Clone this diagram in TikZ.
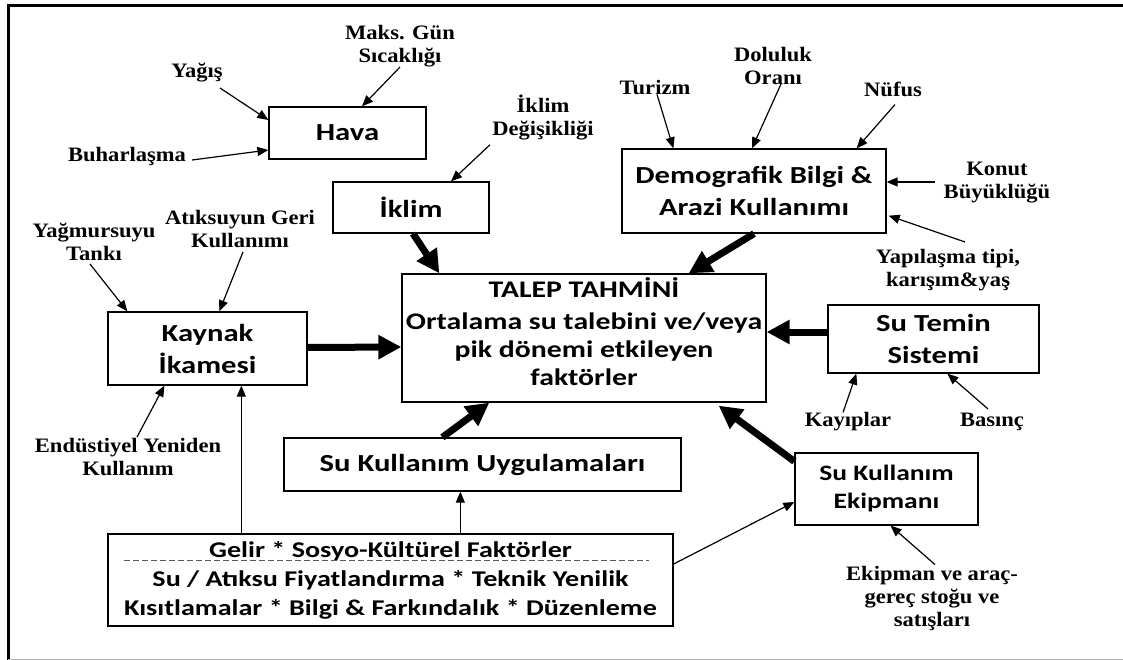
\documentclass[tikz,border=0pt]{standalone}
\usepackage{fontspec}
\setmainfont{Liberation Serif}
\newfontfamily\boxfont[FakeStretch=1.25]{Carlito}
\newfontfamily\labfont[FakeStretch=1.1]{Liberation Serif}
\usetikzlibrary{arrows.meta,calc}
\begin{document}
\begin{tikzpicture}[x=1pt,y=-1pt,
  box/.style={draw, line width=1.3pt, inner sep=0pt, align=center,
    font=\boxfont\bfseries\fontsize{24.5}{32}\selectfont},
  lab/.style={inner sep=1pt, align=center,
    font=\labfont\bfseries\fontsize{20.5}{23}\selectfont},
  thinarrow/.style={line width=1.2pt, -{Triangle[length=11pt,width=9pt]}},
  thickarrow/.style={line width=7pt, -{Triangle[length=23pt,width=23pt]}}]
\useasboundingbox (0,0) rectangle (1123,660);
% frame
\draw[line width=3pt] (8,660) -- (8,5.5) -- (1123,5.5);
\draw[gray!60, line width=1pt] (8,659.5) -- (1123,659.5);

% boxes
\node[box, minimum width=157pt, minimum height=52pt] (hava) at (347.5,133) {Hava};
\node[box, minimum width=156pt, minimum height=51pt] (iklim) at (411,207.5) {İklim};
\node[box, minimum width=264pt, minimum height=84pt] (demo) at (754,191) {Demografik Bilgi \&\\Arazi Kullanımı};
\node[box, minimum width=364pt, minimum height=128pt, font=\boxfont\bfseries\fontsize{23.8}{28}\selectfont] (talep) at (584,338) {TALEP TAHMİNİ\\[4pt]Ortalama su talebini ve/veya\\pik dönemi etkileyen\\faktörler\\[-16pt]\mbox{}};
\node[box, minimum width=199pt, minimum height=73pt] (kaynak) at (207.5,348.5) {Kaynak\\İkamesi};
\node[box, minimum width=211pt, minimum height=68pt] (temin) at (933.5,339) {Su Temin\\Sistemi};
\node[box, minimum width=397pt, minimum height=53pt] (uyg) at (482.5,464.5) {Su Kullanım Uygulamaları};
\node[box, minimum width=183pt, minimum height=72pt, font=\boxfont\bfseries\fontsize{22}{28}\selectfont] (ekip) at (886.5,489) {Su Kullanım\\Ekipmanı};
\node[box, minimum width=565pt, minimum height=92pt, font=\boxfont\bfseries\fontsize{22.5}{29}\selectfont] (bot) at (390.5,580) {Gelir * Sosyo-Kültürel Faktörler\\Su / Atıksu Fiyatlandırma * Teknik Yenilik\\Kısıtlamalar * Bilgi \& Farkındalık * Düzenleme};
\draw[gray!70!black, line width=1.2pt, dash pattern=on 6pt off 3pt] ($(bot.north west)+(17,27)$) -- ($(bot.north east)+(-25,27)$);

% labels
\node[lab] (maks) at (400,46) {Maks. Gün\\Sıcaklığı};
\node[lab] (yagis) at (197,73) {Yağış};
\node[lab] (buhar) at (127,157) {Buharlaşma};
\node[lab] (ikdeg) at (543,117) {İklim\\Değişikliği};
\node[lab] (turizm) at (655,88) {Turizm};
\node[lab] (doluluk) at (773,66) {Doluluk\\Oranı};
\node[lab] (nufus) at (893,89) {Nüfus};
\node[lab] (konut) at (997,183) {Konut\\Büyüklüğü};
\node[lab] (yapi) at (948,270) {Yapılaşma tipi,\\karışım\&yaş};
\node[lab] (yagmur) at (94,242) {Yağmursuyu\\Tankı};
\node[lab] (atik) at (240,229) {Atıksuyun Geri\\Kullanımı};
\node[lab] (endus) at (128,457) {Endüstiyel Yeniden\\Kullanım};
\node[lab] (kayip) at (848,422) {Kayıplar};
\node[lab] (basinc) at (992,422) {Basınç};
\node[lab] (ekipv) at (932,598) {Ekipman ve araç-\\gereç stoğu ve\\satışları};

% thin arrows
\draw[thinarrow] ($(yagis)+(23,15)$) -- ($(hava.west)+(0,-13)$);
\draw[thinarrow] ($(buhar.east)+(5,3)$) -- ($(hava.west)+(0,17)$);
\draw[thinarrow] ($(maks.south)+(0,-1)$) -- ($(hava.north)+(14.5,0)$);
\draw[thinarrow] ($(ikdeg.south)+(-53,4)$) -- ($(iklim.north)+(40,0)$);
\draw[thinarrow] ($(turizm.south)+(2,-2)$) -- ($(demo.north west)+(52,0)$);
\draw[thinarrow] ($(doluluk.south)+(8,-2)$) -- ($(demo.north)+(-2,0)$);
\draw[thinarrow] ($(nufus.south)+(2,7)$) -- ($(demo.north east)+(-30,0)$);
\draw[thinarrow] ($(konut.west)+(-8,-1)$) -- ($(demo.east)+(0,-9)$);
\draw[thinarrow] ($(yapi.north)+(17,-6)$) -- ($(demo.south east)+(2,-18)$);
\draw[thinarrow] ($(yagmur.south)+(-4,2)$) -- ($(kaynak.north west)+(20,0)$);
\draw[thinarrow] ($(atik.south)+(3,3)$) -- ($(kaynak.north west)+(112,0)$);
\draw[thinarrow] ($(endus.north)+(9,0)$) -- ($(kaynak.south west)+(57,0)$);
\draw[thinarrow] ($(bot.north west)+(134,0)$) -- ($(kaynak.south west)+(134,0)$);
\draw[thinarrow] ($(bot.north west)+(353,0)$) -- ($(uyg.south west)+(177,0)$);
\draw[thinarrow] ($(bot.east)+(0,-16)$) -- ($(ekip.west)+(0,13)$);
\draw[thinarrow] ($(kayip.north)+(-5,1)$) -- ($(temin.south west)+(29,0)$);
\draw[thinarrow] ($(basinc.north)+(-4,-3)$) -- ($(temin.south west)+(120,0)$);
\draw[thinarrow] ($(ekipv.north)+(3,0)$) -- ($(ekip.south)+(4,0)$);

% thick arrows
\draw[thickarrow] ($(iklim.south)+(2,0)$) -- ($(talep.north west)+(38,0)$);
\draw[thickarrow] (demo.south) -- ($(talep.north east)+(-78,0)$);
\draw[thickarrow] ($(kaynak.east)+(0,-1)$) -- ($(talep.west)+(0,9)$);
\draw[thickarrow] ($(temin.west)+(0,-7)$) -- ($(talep.east)+(0,-6)$);
\draw[thickarrow] ($(uyg.north west)+(159,0)$) -- ($(talep.south west)+(88,0)$);
\draw[thickarrow] ($(ekip.north west)+(0,9)$) -- ($(talep.south east)+(-48,3)$);
\end{tikzpicture}
\end{document}
